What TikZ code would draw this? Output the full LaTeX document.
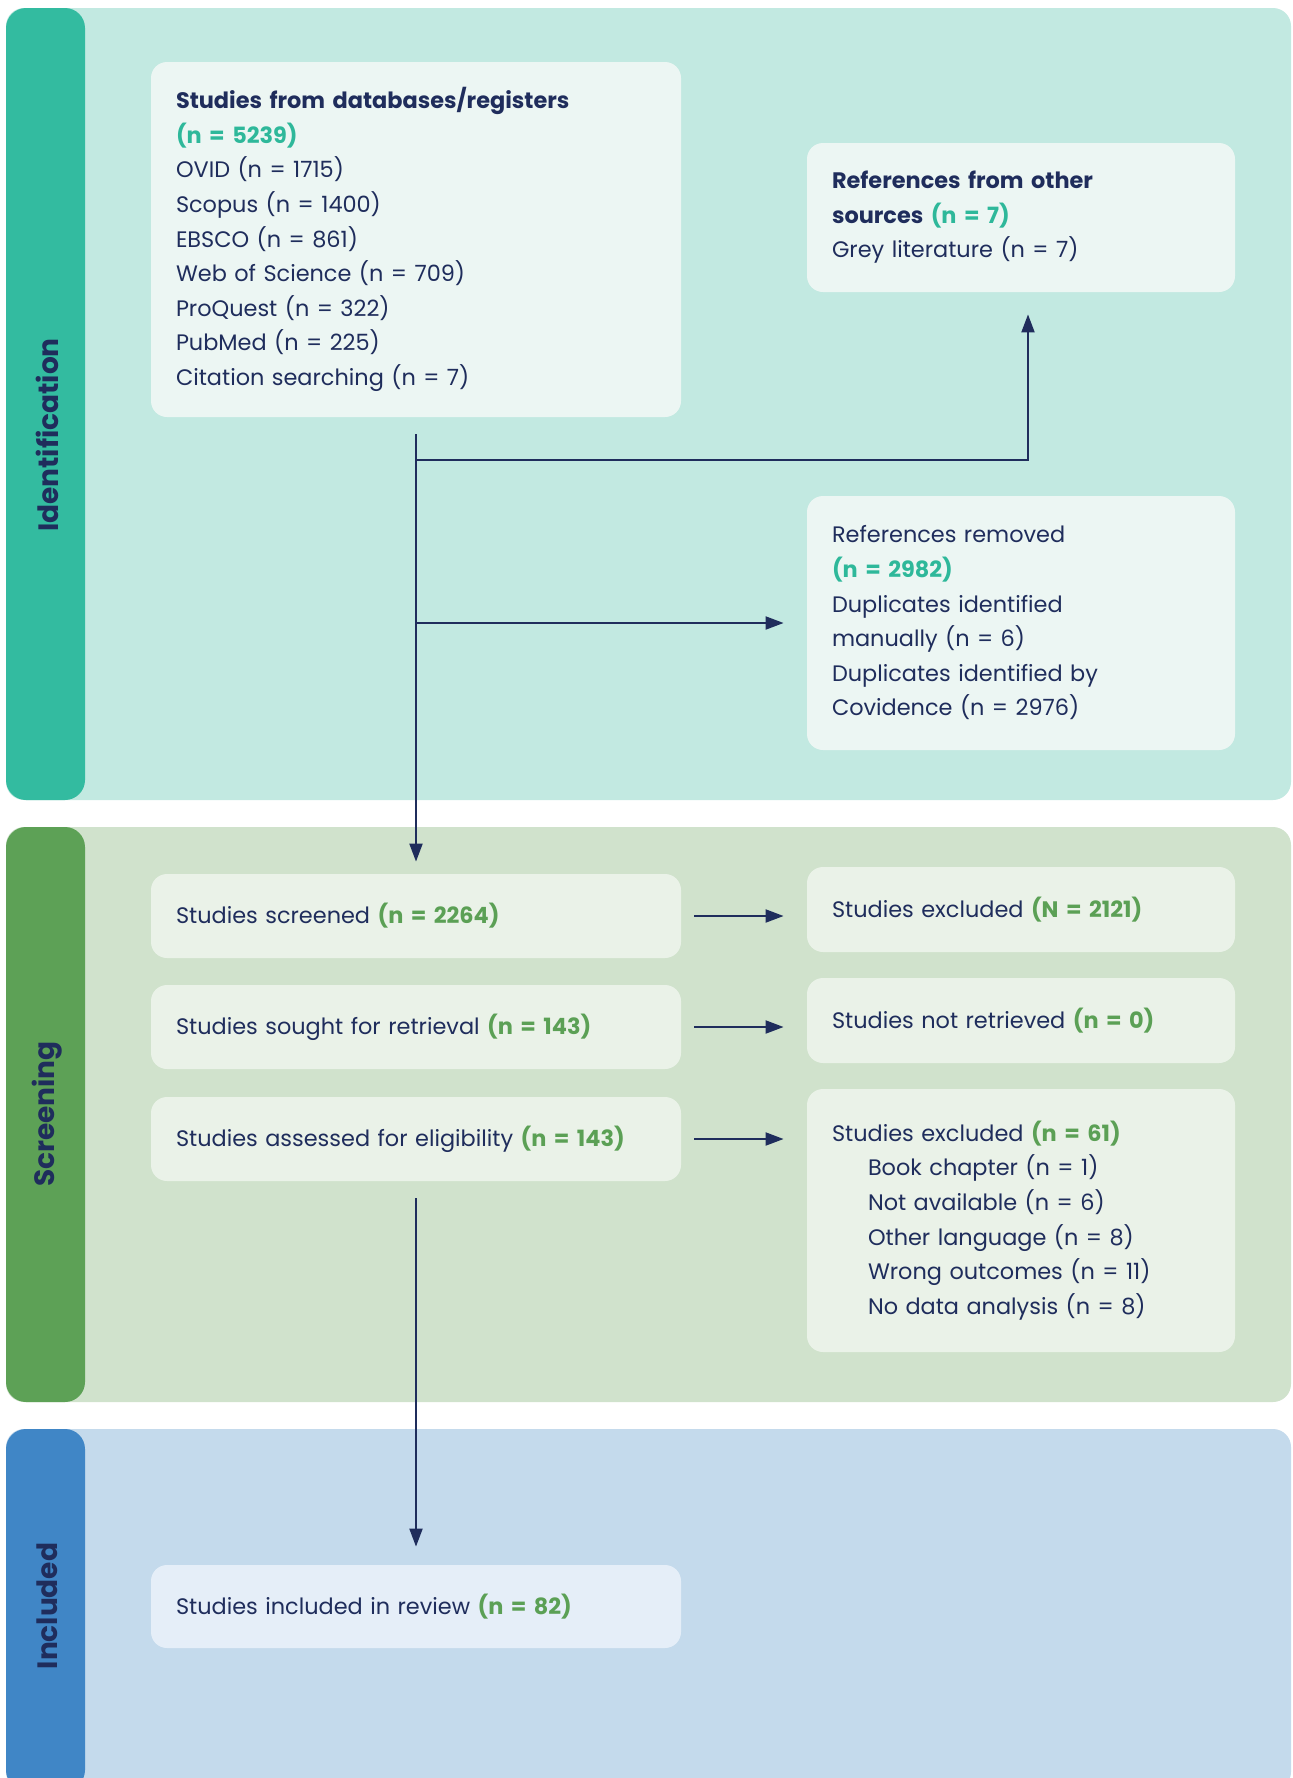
\documentclass[tikz,border=0pt]{standalone}
\usepackage{fontspec}
\setmainfont{Poppins}
\usetikzlibrary{arrows.meta}

\definecolor{navy}{HTML}{1F2D5C}
\definecolor{idbg}{HTML}{C2E9E1}
\definecolor{idbar}{HTML}{33BBA0}
\definecolor{idbox}{HTML}{ECF6F3}
\definecolor{scbg}{HTML}{D0E2CC}
\definecolor{scbar}{HTML}{5DA156}
\definecolor{scbox}{HTML}{EAF2E8}
\definecolor{inbg}{HTML}{C4DAEC}
\definecolor{inbar}{HTML}{4086C6}
\definecolor{inbox}{HTML}{E5EEF8}
\definecolor{tealnum}{HTML}{2EB89A}
\definecolor{greennum}{HTML}{5BA055}

\newcommand{\nteal}[1]{\textbf{\textcolor{tealnum}{#1}}}
\newcommand{\ngreen}[1]{\textbf{\textcolor{greennum}{#1}}}

\tikzset{
	stagebox/.style={rectangle, rounded corners=8pt, inner xsep=12.5pt, inner ysep=0pt, align=left, text=navy, font=\fontsize{11.2}{17.3}\selectfont},
	leftbox/.style={stagebox, text width=240pt, minimum height=#1},
	rightbox/.style={stagebox, text width=189pt, minimum height=#1},
	flow/.style={draw=navy, line width=1pt, -{Triangle[length=9pt,width=6.5pt]}},
	barlabel/.style={rotate=90, text=navy, font=\fontsize{14}{16}\selectfont\bfseries},
}

\begin{document}
\begin{tikzpicture}[x=0.5pt, y=-0.5pt]
			\useasboundingbox (0,0) rectangle (1292,1778);
			\fill[white] (0,0) rectangle (1292,1778);

			% phases
			\fill[idbg, rounded corners=9pt] (6,8) rectangle (1291,800);
			\fill[idbar, rounded corners=10pt] (6,8) rectangle (85,800);
			\node[barlabel] (idlabel) at (47,435) {Identification};

			\fill[scbg, rounded corners=9pt] (6,827) rectangle (1291,1402);
			\fill[scbar, rounded corners=10pt] (6,827) rectangle (85,1402);
			\node[barlabel] (sclabel) at (47,1114) {Screening};

			\fill[inbg, rounded corners=9pt] (6,1429) rectangle (1291,1790);
			\fill[inbar, rounded corners=10pt] (6,1429) rectangle (85,1790);
			\node[barlabel] (inlabel) at (47,1606) {Included};

			% identification
			\node[leftbox=177.5pt, fill=idbox] (db) at (416,239.5) {\textbf{Studies from databases/registers}\\ \nteal{(n = 5239)}\\ OVID (n = 1715)\\ Scopus (n = 1400)\\ EBSCO (n = 861)\\ Web of Science (n = 709)\\ ProQuest (n = 322)\\ PubMed (n = 225)\\ Citation searching (n = 7)};
			\node[rightbox=74.5pt, fill=idbox] (other) at (1021,217.5) {\textbf{References from other}\\ \textbf{sources} \nteal{(n = 7)}\\ Grey literature (n = 7)};
			\node[rightbox=127pt, fill=idbox] (removed) at (1021,623) {References removed\\ \nteal{(n = 2982)}\\ Duplicates identified\\ manually (n = 6)\\ Duplicates identified by\\ Covidence (n = 2976)};

			% screening
			\node[leftbox=42pt, fill=scbox] (screened) at (416,916) {Studies screened \ngreen{(n = 2264)}};
			\node[leftbox=42pt, fill=scbox] (sought) at (416,1027) {Studies sought for retrieval \ngreen{(n = 143)}};
			\node[leftbox=42pt, fill=scbox] (assessed) at (416,1139) {Studies assessed for eligibility \ngreen{(n = 143)}};
			\node[rightbox=42.5pt, fill=scbox] (excl) at (1021,909.5) {Studies excluded \ngreen{(N = 2121)}};
			\node[rightbox=42.5pt, fill=scbox] (notret) at (1021,1020.5) {Studies not retrieved \ngreen{(n = 0)}};
			\node[rightbox=131.5pt, fill=scbox] (excltwo) at (1021,1220.5) {Studies excluded \ngreen{(n = 61)}\\ \hspace*{18pt}Book chapter (n = 1)\\ \hspace*{18pt}Not available (n = 6)\\ \hspace*{18pt}Other language (n = 8)\\ \hspace*{18pt}Wrong outcomes (n = 11)\\ \hspace*{18pt}No data analysis (n = 8)};

			% included
			\node[leftbox=41.5pt, fill=inbox] (included) at (416,1606.5) {Studies included in review \ngreen{(n = 82)}};

			% arrows
			\coordinate (splitone) at (416,460);
			\coordinate (splittwo) at (416,623);
			\draw [flow, shorten <=8.5pt, shorten >=6pt] (db) -- (screened);
			\draw [flow, shorten >=11pt] (splitone) -| ([xshift=3.5pt]other.south);
			\draw [flow, shorten >=11.5pt] (splittwo) -- (removed.west);
			\draw [flow, shorten <=6.5pt, shorten >=11.5pt] (screened.east) -- (screened.east -| excl.west);
			\draw [flow, shorten <=6.5pt, shorten >=11.5pt] (sought.east) -- (sought.east -| notret.west);
			\draw [flow, shorten <=6.5pt, shorten >=11.5pt] (assessed.east) -- (assessed.east -| excltwo.west);
			\draw [flow, shorten <=8.5pt, shorten >=9pt] (assessed) -- (included);
\end{tikzpicture}
\end{document}
